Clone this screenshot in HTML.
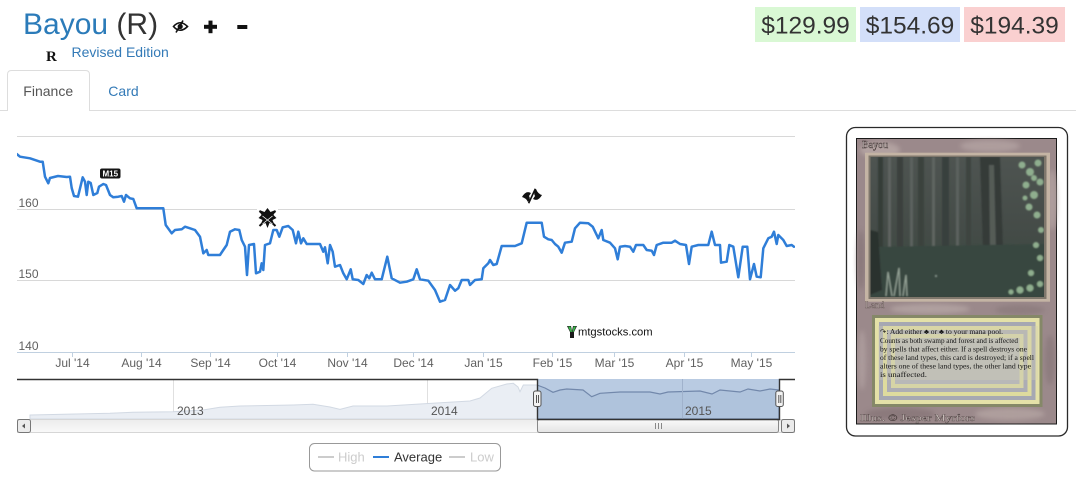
<!DOCTYPE html>
<html><head><meta charset="utf-8"><style>
html,body{margin:0;padding:0;background:#fff;}
svg{display:block;}
text{font-family:"Liberation Sans",Arial,sans-serif;}
.serif,.serif text{font-family:"Liberation Serif","Times New Roman",serif;}
</style></head><body>
<svg width="1076" height="477" viewBox="0 0 1076 477" xmlns="http://www.w3.org/2000/svg">
<defs>
<clipPath id="plot"><rect x="17" y="130" width="778" height="223"/></clipPath>
<clipPath id="nav"><rect x="17" y="379" width="778" height="40"/></clipPath>
<clipPath id="sel"><rect x="537" y="379" width="242" height="40"/></clipPath>
<clipPath id="art"><rect x="870.5" y="157" width="173.5" height="140"/></clipPath>
<linearGradient id="scr" x1="0" y1="0" x2="0" y2="1"><stop offset="0" stop-color="#fafafa"/><stop offset="1" stop-color="#e4e4e4"/></linearGradient>
<linearGradient id="trk" x1="0" y1="0" x2="0" y2="1"><stop offset="0" stop-color="#ececec"/><stop offset="1" stop-color="#f9f9f9"/></linearGradient>
<linearGradient id="artg" x1="0" y1="0" x2="0" y2="1"><stop offset="0" stop-color="#4e5451"/><stop offset="0.55" stop-color="#444b47"/><stop offset="0.7" stop-color="#3f4b44"/><stop offset="1" stop-color="#36433b"/></linearGradient>
<filter id="blur2"><feGaussianBlur stdDeviation="2.5"/></filter>
<filter id="blur1"><feGaussianBlur stdDeviation="0.8"/></filter>
</defs>
<rect width="1076" height="477" fill="#fff"/>

<text x="23" y="34" font-size="30"><tspan fill="#2b7bb9">Bayou</tspan><tspan fill="#333"> (R)</tspan></text>
<g transform="translate(173,20)">
<path d="M0.5,6.5 Q7,-1 14.5,6.5 Q7,14 0.5,6.5 Z" fill="none" stroke="#111" stroke-width="1.6"/>
<circle cx="7.2" cy="6.5" r="2.6" fill="#111"/>
<line x1="3" y1="12.5" x2="10" y2="0.5" stroke="#111" stroke-width="1.6"/>
</g>
<rect x="204" y="24.8" width="13" height="4" fill="#111"/>
<rect x="208.5" y="20.6" width="4" height="12.6" fill="#111"/>
<rect x="237.3" y="25" width="10" height="4" fill="#111"/>
<text x="46" y="61" font-size="15" font-weight="bold" class="serif" fill="#111">R</text>
<text x="71.5" y="57" font-size="14" fill="#337ab7">Revised Edition</text>

<rect x="755" y="7" width="101" height="35" fill="#d9f8d4"/>
<rect x="860" y="7" width="100" height="35" fill="#d3dff9"/>
<rect x="964" y="7" width="101" height="35" fill="#fad0d0"/>
<text x="805.5" y="33.5" font-size="24.5" fill="#333" text-anchor="middle">$129.99</text>
<text x="910" y="33.5" font-size="24.5" fill="#333" text-anchor="middle">$154.69</text>
<text x="1014.5" y="33.5" font-size="24.5" fill="#333" text-anchor="middle">$194.39</text>

<line x1="0" y1="110.5" x2="1076" y2="110.5" stroke="#ddd" stroke-width="1"/>
<path d="M7.5,111 L7.5,74.5 Q7.5,70.5 11.5,70.5 L85.5,70.5 Q89.5,70.5 89.5,74.5 L89.5,111" fill="#fff" stroke="#ddd" stroke-width="1"/>
<rect x="8" y="108" width="81" height="4" fill="#fff"/>
<text x="23.3" y="96" font-size="14" fill="#555">Finance</text>
<text x="108.3" y="96" font-size="14" fill="#337ab7">Card</text>

<g stroke="#d8d8d8" stroke-width="1">
<line x1="17" y1="136.5" x2="795" y2="136.5"/>
<line x1="17" y1="209.5" x2="795" y2="209.5"/>
<line x1="17" y1="280.5" x2="795" y2="280.5"/>
</g>
<line x1="17" y1="352.5" x2="795" y2="352.5" stroke="#c0d0e0" stroke-width="1"/>
<g stroke="#c0d0e0" stroke-width="1">
<line x1="72.5" y1="352" x2="72.5" y2="357"/>
<line x1="141.5" y1="352" x2="141.5" y2="357"/>
<line x1="210.5" y1="352" x2="210.5" y2="357"/>
<line x1="277.5" y1="352" x2="277.5" y2="357"/>
<line x1="347.5" y1="352" x2="347.5" y2="357"/>
<line x1="413.5" y1="352" x2="413.5" y2="357"/>
<line x1="483.5" y1="352" x2="483.5" y2="357"/>
<line x1="552.5" y1="352" x2="552.5" y2="357"/>
<line x1="614.5" y1="352" x2="614.5" y2="357"/>
<line x1="684.5" y1="352" x2="684.5" y2="357"/>
<line x1="751.5" y1="352" x2="751.5" y2="357"/>
</g>
<g font-size="12" fill="#606060">
<text x="18.5" y="207">160</text>
<text x="18.5" y="278">150</text>
<text x="18.5" y="350">140</text>
</g>
<g font-size="12" fill="#606060" text-anchor="middle">
<text x="72.5" y="367">Jul '14</text>
<text x="141.5" y="367">Aug '14</text>
<text x="210.5" y="367">Sep '14</text>
<text x="277.5" y="367">Oct '14</text>
<text x="347.5" y="367">Nov '14</text>
<text x="413.5" y="367">Dec '14</text>
<text x="483.5" y="367">Jan '15</text>
<text x="552.5" y="367">Feb '15</text>
<text x="614.5" y="367">Mar '15</text>
<text x="684.5" y="367">Apr '15</text>
<text x="751.5" y="367">May '15</text>
</g>

<g transform="translate(567,326)">
<path d="M0,0 L4,0 L5,5 L6,0 L10,0 L7,6 L7,12 L3,12 L3,6 Z" fill="#1a1a1a"/>
<path d="M1,0.5 L3.5,0.5 L5,6 L3.5,6 Z" fill="#3bb54a"/>
<path d="M6.5,0.5 L9,0.5 L6.5,6 L5.5,6 Z" fill="#3bb54a"/>
</g>
<text x="578" y="335.5" font-size="11.2" fill="#111">mtgstocks.com</text>

<g clip-path="url(#plot)">
<polyline fill="none" stroke="#2f7ed8" stroke-width="2.5" stroke-linejoin="round" stroke-linecap="round" points="16.7,154 20,156.7 30,158.3 40,161.7 42.7,161.7 45,176.7 48.3,183.3 50,178 58,176 66.7,177 70,176.7 71.7,188 74,196 78,196.7 82.7,177.3 85,181.7 86.7,195 88.3,181.7 90.7,183 93.3,195 97.3,193 99,186.7 101.7,185 103.3,184 106,185 110,195 113.3,197.3 118.3,196.7 121.7,196 124,201.7 126,195 130,198.3 133.3,199 136.7,208.3 163.3,208.3 165.7,225 171.7,233.3 175,230 181.7,229.3 185,226.7 190,228.3 195,230 200,236.7 203.3,253.3 206.7,250 208.3,255 220,255 223.3,250 226.7,245 230,231.7 235,229.3 239.3,230 241.7,240 245,246.7 247,275 249,245 254,244 256,273.3 260,271.7 261.7,263.3 263.3,270 265,245 270,243.3 273.3,230 276.7,230 279.3,236.7 282.7,227.3 288.3,226 292.7,230 296,243.3 298.3,231.7 301,243.3 303.3,238.3 306.7,244 320,244 323.3,251.7 325,247.3 327.7,263.3 330,245 332.7,251.7 335,266.7 340,265 343.3,273.3 346.7,279.3 350.7,269.3 352.7,279.3 358.3,280 363.3,284 366.7,275 369.3,278.3 371.7,272.7 375,279.3 381.7,279.3 387.3,256.7 391.7,278.3 400,282.7 406.7,281.7 413.3,279.3 416.7,269.3 420,279.3 428.3,280.7 435,290 440,301.7 445,300 450,285 455,290.7 458.3,288.3 461.7,280 468.3,280 470,285 475,280 481.7,279.3 483.3,268.3 488.3,263.3 490,260 493.3,265 496.7,264 501.7,246 515,246 521.7,243.3 526.7,222.7 541.7,222.7 544,236.7 548.3,239.3 551.7,240 555,244 558.3,246.7 561.7,252.7 565,242.7 571.7,241.7 575,228.3 580,222.7 588.3,223.3 592.7,226.7 598.3,238.3 601.7,230 603.3,240 610,242.7 615,248.3 617.7,259.3 620,246.7 625,246 630,246.7 633.3,251.7 636,245 643.3,245 646.7,250 651.7,250.7 654,255 656.7,245 663.3,242.7 671.7,242.7 675,240.7 680,244 686,245 689,264 691.7,246.7 698.3,245 708.3,245 711.7,231.7 715,245 720,245 721,262.7 726.7,261.7 729.3,245 733.3,246.7 738.3,277.3 742.7,246.7 747.3,246.7 750,279.3 754,264 756.7,276.7 760.7,277.3 763.3,248.3 768.3,238.3 771.7,236.7 774,231.7 776.7,244 778.3,235 783.3,240 786.7,246 791.7,245 794,246.7"/>
</g>

<rect x="100" y="168.5" width="20.5" height="10" rx="2" fill="#151515"/>
<text x="110.3" y="176.6" font-size="8" font-weight="bold" fill="#fff" text-anchor="middle">M15</text>
<rect x="257" y="207.5" width="21" height="3.5" fill="#fff"/>
<g transform="translate(267.5,218)" fill="#111">
<path d="M0,-10 L3,-6 L8,-8 L6,-3 L9,0 L5,2 L7,7 L2,5 L0,10 L-2,5 L-7,7 L-5,2 L-9,0 L-6,-3 L-8,-8 L-3,-6 Z"/>
<path d="M-8,-7 L8,8 M8,-7 L-8,8" stroke="#111" stroke-width="2"/>
<path d="M-5,-2 L5,6 M5,-2 L-5,6" stroke="#fff" stroke-width="0.8"/>
</g>
<g transform="translate(532,196)" fill="#111">
<path d="M-10,1 Q-6,-6 -1,-3 L-3,0 Q-1,3 -4,6 Q-6,2 -10,1 Z"/>
<path d="M10,-1 Q6,6 1,3 L3,0 Q1,-3 4,-7 Q6,-2 10,-1 Z"/>
<rect x="-0.8" y="-8" width="1.6" height="16" fill="#111" transform="rotate(25)"/>
</g>

<g clip-path="url(#nav)">
<line x1="173.5" y1="379" x2="173.5" y2="419" stroke="#e0e0e0"/>
<line x1="427.5" y1="379" x2="427.5" y2="419" stroke="#e0e0e0"/>
<line x1="682.5" y1="379" x2="682.5" y2="419" stroke="#d0d8e4"/>
<path d="M30,415 L110,413.3 L133,412.3 L173,411.7 L203,410 L220,407.3 L240,406 L293,405 L313,404.3 L330,407 L340,409.3 L353,406 L387,406 L420,404 L470,401 L480,398 L491.7,388.3 L506.7,384 L513.3,383.3 L518,387 L520,391.7 L523.3,385 L537,385 L545,388 L553,392.3 L560,390 L566.7,389 L583,390 L591.7,396.7 L600,393.3 L620,392 L650,392 L660,394 L668,392 L700,391 L712,394 L720,390 L740,392 L748,389 L760,391 L779,390 L779,419 L30,419 Z" fill="#eaeef4" stroke="#d2d9e3" stroke-width="1"/>
</g>
<rect x="537" y="379" width="242" height="40" fill="#b9cbe2"/>
<g clip-path="url(#sel)">
<path d="M537,385 L545,388 L553,392.3 L560,390 L566.7,389 L583,390 L591.7,396.7 L600,393.3 L620,392 L650,392 L660,394 L668,392 L700,391 L712,394 L720,390 L740,392 L748,389 L760,391 L770,389 L779,390 L779,419 L537,419 Z" fill="#afc3dc" stroke="#7288ab" stroke-width="1.2"/>
<line x1="682.5" y1="379" x2="682.5" y2="419" stroke="#a0b2cc"/>
</g>
<g font-size="12" fill="#555">
<text x="177" y="415">2013</text>
<text x="431" y="415">2014</text>
<text x="685" y="415">2015</text>
</g>
<rect x="17.5" y="419.5" width="777" height="13" fill="url(#trk)" stroke="#d6d6d6" stroke-width="1"/>
<rect x="17.5" y="419.5" width="13" height="13" rx="2" fill="#ebebeb" stroke="#777" stroke-width="1"/>
<path d="M25,423.5 L22,426 L25,428.5 Z" fill="#555"/>
<rect x="537.5" y="419.5" width="241" height="13" rx="2" fill="url(#scr)" stroke="#888" stroke-width="1"/>
<g stroke="#888" stroke-width="1"><line x1="655.5" y1="423" x2="655.5" y2="429"/><line x1="658.5" y1="423" x2="658.5" y2="429"/><line x1="661.5" y1="423" x2="661.5" y2="429"/></g>
<rect x="781.5" y="419.5" width="13" height="13" rx="2" fill="#ebebeb" stroke="#777" stroke-width="1"/>
<path d="M787,423.5 L790,426 L787,428.5 Z" fill="#555"/>
<path d="M17,379.5 L537.5,379.5 L537.5,419.5 L779.5,419.5 L779.5,379.5 L795,379.5" fill="none" stroke="#333" stroke-width="1.4"/>
<rect x="533.5" y="391" width="7.5" height="15.5" rx="2" fill="#f2f2f2" stroke="#555" stroke-width="1"/>
<line x1="536.5" y1="395" x2="536.5" y2="403" stroke="#555"/><line x1="538.5" y1="395" x2="538.5" y2="403" stroke="#555"/>
<rect x="775.8" y="391" width="7.5" height="15.5" rx="2" fill="#f2f2f2" stroke="#555" stroke-width="1"/>
<line x1="778.8" y1="395" x2="778.8" y2="403" stroke="#555"/><line x1="780.8" y1="395" x2="780.8" y2="403" stroke="#555"/>

<rect x="309.5" y="443.5" width="191" height="27.5" rx="5" fill="#fff" stroke="#999" stroke-width="1"/>
<line x1="318" y1="457" x2="334" y2="457" stroke="#ccc" stroke-width="2"/>
<text x="338" y="461.5" font-size="13" fill="#ccc">High</text>
<line x1="373" y1="457" x2="389" y2="457" stroke="#2f7ed8" stroke-width="2"/>
<text x="394" y="461.5" font-size="13" fill="#333">Average</text>
<line x1="449" y1="457" x2="465" y2="457" stroke="#ccc" stroke-width="2"/>
<text x="470" y="461.5" font-size="13" fill="#ccc">Low</text>

<!-- card -->
<rect x="846.5" y="127.5" width="221" height="308.5" rx="9" fill="#fff" stroke="#2a2a2a" stroke-width="1.3"/>
<rect x="856.5" y="138.5" width="200" height="285.5" fill="#9b898b" stroke="#1a1a1a" stroke-width="1"/>
<g filter="url(#blur2)" opacity="0.8">
<ellipse cx="880" cy="150" rx="20" ry="8" fill="#b8a8a6"/>
<ellipse cx="990" cy="146" rx="30" ry="6" fill="#b3a3a2"/>
<ellipse cx="1052" cy="200" rx="5" ry="30" fill="#b2a2a0"/>
<ellipse cx="861" cy="260" rx="4" ry="30" fill="#877678"/>
<ellipse cx="930" cy="309" rx="40" ry="5" fill="#b5a6a4"/>
<ellipse cx="1020" cy="310" rx="25" ry="5" fill="#8c7b7d"/>
<ellipse cx="900" cy="414" rx="35" ry="6" fill="#877678"/>
<ellipse cx="1010" cy="414" rx="35" ry="6" fill="#b4a4a2"/>
<ellipse cx="862" cy="360" rx="4" ry="30" fill="#b0a0a0"/>
<ellipse cx="1050" cy="360" rx="5" ry="25" fill="#8a797b"/>
</g>
<text x="862" y="148" font-size="10" class="serif" fill="#f4eee8" stroke="#3a2e2e" stroke-width="0.4">Bayou</text>
<rect x="865" y="152.7" width="185" height="149" fill="#c4b4a4"/>
<rect x="868.5" y="155.5" width="178" height="143.5" fill="#7f776c"/>
<rect x="870.5" y="157" width="173.5" height="140" fill="url(#artg)"/>
<g clip-path="url(#art)">
<g filter="url(#blur1)">
<rect x="878" y="157" width="5" height="115" fill="#363c39"/>
<rect x="888" y="157" width="3" height="100" fill="#5e6461"/>
<rect x="897" y="157" width="6" height="100" fill="#3a413d"/>
<rect x="910" y="157" width="3" height="95" fill="#5c625e"/>
<rect x="918" y="157" width="6" height="100" fill="#3b423e"/>
<rect x="932" y="157" width="3" height="95" fill="#5f6561"/>
<rect x="942" y="157" width="7" height="100" fill="#39403c"/>
<rect x="956" y="157" width="3" height="95" fill="#5c625e"/>
<rect x="966" y="157" width="5" height="100" fill="#3d4440"/>
<path d="M980,157 L1000,157 L1003,250 L1014,287 L974,287 L983,250 Z" fill="#343a37"/>
<path d="M989,165 L994,165 L996,250 L990,250 Z" fill="#555b57"/>
<path d="M870,247 L1045,244 L1045,297 L870,297 Z" fill="#384640"/>
<path d="M870,230 L878,232 L882,290 L870,295 Z" fill="#2a312d"/>
<g fill="#8fae8e">
<circle cx="1022" cy="165" r="3.5"/><circle cx="1030" cy="172" r="4"/><circle cx="1038" cy="163" r="3.5"/>
<circle cx="1026" cy="185" r="3.5"/><circle cx="1034" cy="195" r="4"/><circle cx="1040" cy="182" r="3.5"/>
<circle cx="1029" cy="207" r="3.5"/><circle cx="1037" cy="215" r="3.5"/><circle cx="1041" cy="230" r="3"/>
<circle cx="1036" cy="245" r="3"/><circle cx="1040" cy="258" r="3"/><circle cx="1031" cy="273" r="3"/>
<circle cx="1020" cy="290" r="3.5"/><circle cx="1030" cy="288" r="3.5"/><circle cx="1040" cy="284" r="3"/>
<circle cx="1034" cy="178" r="3"/><circle cx="1025" cy="198" r="2.5"/><circle cx="1011" cy="292" r="2.5"/>
</g>
<path d="M886,296 L888,272 L892,296 M894,296 L899,268 L900,296 M903,296 L906,275 L907,296" stroke="#96a498" stroke-width="1.2" fill="none"/>
<circle cx="936" cy="276" r="1" fill="#8a9a90"/>
</g>
</g>
<text x="865" y="308" font-size="9.5" class="serif" fill="#d8ccc4" stroke="#4a3c3c" stroke-width="0.3">Land</text>
<rect x="872" y="315" width="170.5" height="92" fill="#858868"/>
<rect x="875" y="318" width="164.5" height="86" fill="#e4e1a8"/>
<rect x="879" y="322" width="156.5" height="78" fill="#a6a8b2"/>
<rect x="883" y="326" width="148.5" height="70" fill="#dedb9e"/>
<rect x="887" y="330" width="140.5" height="62" fill="#adadb4"/>
<rect x="891" y="334" width="132.5" height="54" fill="#d6d4a6"/>
<rect x="895" y="338" width="124.5" height="46" fill="#b8b8b8"/>
<rect x="878" y="326" width="160" height="54" fill="#d0cfb4" opacity="0.35"/>
<g class="serif" font-size="7.2" fill="#141414">
<text x="880" y="334" textLength="123" lengthAdjust="spacingAndGlyphs">↷: Add either ♣ or ♣ to your mana pool.</text>
<text x="880" y="343" textLength="138" lengthAdjust="spacingAndGlyphs">Counts as both swamp and forest and is affected</text>
<text x="880" y="351.5" textLength="147" lengthAdjust="spacingAndGlyphs">by spells that affect either.  If a spell destroys one</text>
<text x="880" y="360" textLength="154" lengthAdjust="spacingAndGlyphs">of these land types, this card is destroyed; if a spell</text>
<text x="880" y="368.5" textLength="151" lengthAdjust="spacingAndGlyphs">alters one of these land types, the other land type</text>
<text x="880" y="377" textLength="47" lengthAdjust="spacingAndGlyphs">is unaffected.</text>
</g>
<text x="860" y="421" font-size="9.5" class="serif" fill="#eee6e0" stroke="#3a2e2e" stroke-width="0.3" textLength="115" lengthAdjust="spacingAndGlyphs">Illus. © Jesper Myrfors</text>
</svg>
</body></html>
